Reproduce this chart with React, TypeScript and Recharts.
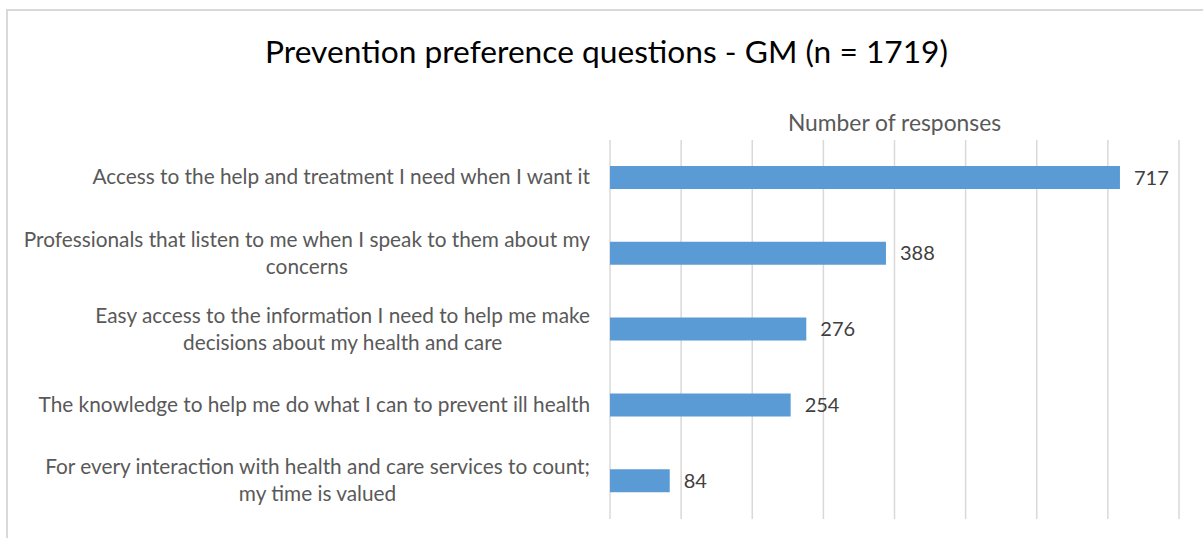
import { BarChart, Bar, XAxis, YAxis, CartesianGrid, LabelList } from 'recharts';

const categories = [
  'Access to the help and treatment I need when I want it',
  'Professionals that listen to me when I speak to them about my\nconcerns',
  'Easy access to the information I need to help me make\ndecisions about my health and care',
  'The knowledge to help me do what I can to prevent ill health',
  'For every interaction with health and care services to count;\nmy time is valued',
];
const responses = [717, 388, 276, 254, 84];
const xTicks = [0, 100, 200, 300, 400, 500, 600, 700, 800];

const FONT = 'Lato, "Open Sans", sans-serif';

const data = categories.map((c, i) => ({ category: c, value: responses[i] }));

function CategoryTick(props: any) {
  const { x, y, payload } = props;
  const lines: string[] = String(payload.value).split('\n');
  const h = lines.length * 27;
  return (
    <foreignObject x={0} y={y - h / 2 - 2} width={x - 12} height={h}>
      <div style={{ display: 'flex', justifyContent: 'flex-end', height: '100%' }}>
        <div
          style={{
            textAlign: 'center',
            fontFamily: FONT,
            fontSize: 20.8,
            lineHeight: '27px',
            color: '#595959',
            whiteSpace: 'nowrap',
          }}
        >
          {lines.map((l, i) => (
            <div key={i}>{l}</div>
          ))}
        </div>
      </div>
    </foreignObject>
  );
}

export default function App() {
  return (
    <div style={{ position: 'relative', width: 1203, height: 538, background: '#fff', fontFamily: FONT }}>
      <style>{'body{margin:0}'}</style>
      <div
        style={{
          position: 'absolute',
          left: 6,
          top: 9,
          right: 0,
          bottom: 0,
          borderTop: '2px solid #d9d9d9',
          borderLeft: '2px solid #d9d9d9',
        }}
      />
      <div
        style={{
          position: 'absolute',
          top: 32,
          left: 0,
          width: 1213,
          textAlign: 'center',
          fontSize: 31.7,
          color: '#000',
        }}
      >
        Prevention preference questions - GM (n = 1719)
      </div>
      <div style={{ position: 'absolute', left: 0, top: 0 }}>
        <BarChart
          width={1203}
          height={538}
          data={data}
          layout="vertical"
          margin={{ top: 100, right: 24, bottom: 19, left: 0 }}
          barSize={23}
        >
          <CartesianGrid horizontal={false} stroke="#d9d9d9" strokeWidth={1.5} />
          <XAxis
            type="number"
            orientation="top"
            domain={[0, 800]}
            ticks={xTicks}
            interval={0}
            tick={() => <g />}
            axisLine={false}
            tickLine={false}
            height={40}
            label={{
              value: 'Number of responses',
              position: 'insideTop',
              offset: 15,
              fill: '#595959',
              fontSize: 22.8,
              fontFamily: FONT,
            }}
          />
          <YAxis
            type="category"
            dataKey="category"
            width={610}
            axisLine={false}
            tickLine={false}
            tick={<CategoryTick />}
            interval={0}
          />
          <Bar dataKey="value" fill="#5b9bd5" isAnimationActive={false}>
            <LabelList
              dataKey="value"
              position="right"
              offset={14}
              fill="#404040"
              fontSize={20}
              fontFamily={FONT}
            />
          </Bar>
        </BarChart>
      </div>
    </div>
  );
}
